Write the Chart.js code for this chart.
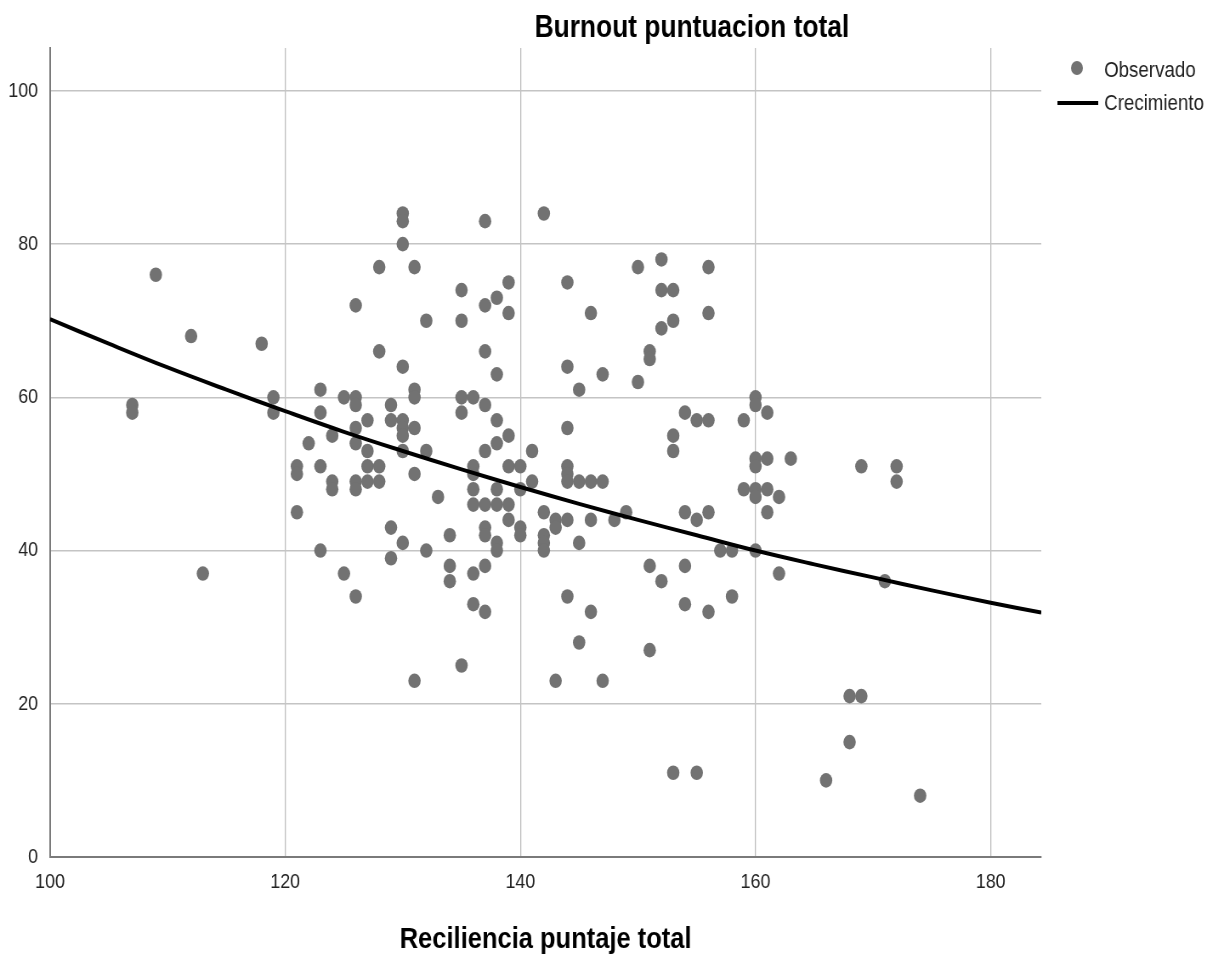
<!DOCTYPE html>
<html>
<head>
<meta charset="utf-8">
<script src="https://cdn.jsdelivr.net/npm/chart.js@4.4.1/dist/chart.umd.min.js"></script>
<style>
  html, body { margin: 0; padding: 0; background: #fff; overflow: hidden; }
  /* the reference looks horizontally compressed, so draw wider and squeeze */
  #wrap { width: 1445px; height: 959px; transform: scaleX(0.85); transform-origin: 0 0; }
</style>
</head>
<body>
<div id="wrap"><canvas id="chart"></canvas></div>
<script>
// Observado: Reciliencia (x) vs Burnout (y)
const resiliencia = [
  107, 107, 109, 112, 113, 118, 119, 119,
  121, 121, 121, 122, 123, 123, 123, 123, 124, 124, 124, 125, 125,
  126, 126, 126, 126, 126, 126, 126, 126, 127, 127, 127, 127,
  128, 128, 128, 128, 129, 129, 129, 129,
  130, 130, 130, 130, 130, 130, 130, 130, 130,
  131, 131, 131, 131, 131, 131, 132, 132, 132, 133, 134, 134, 134,
  135, 135, 135, 135, 135, 136, 136, 136, 136, 136, 136, 136,
  137, 137, 137, 137, 137, 137, 137, 137, 137, 137,
  138, 138, 138, 138, 138, 138, 138, 138, 139, 139, 139, 139, 139, 139,
  140, 140, 140, 140, 141, 141, 142, 142, 142, 142, 142, 143, 143, 143,
  144, 144, 144, 144, 144, 144, 144, 144, 145, 145, 145, 145,
  146, 146, 146, 146, 147, 147, 147, 148, 149, 150, 150,
  151, 151, 151, 151, 152, 152, 152, 152, 153, 153, 153, 153, 153,
  154, 154, 154, 154, 155, 155, 155, 156, 156, 156, 156, 156,
  157, 158, 158, 159, 159, 160, 160, 160, 160, 160, 160, 160,
  161, 161, 161, 161, 162, 162, 163, 166, 168, 168, 169, 169, 171, 172, 172, 174
];
const burnout = [
  59, 58, 76, 68, 37, 67, 60, 58,
  51, 50, 45, 54, 61, 58, 51, 40, 55, 49, 48, 60, 37,
  72, 60, 59, 56, 54, 49, 48, 34, 57, 53, 51, 49,
  77, 66, 51, 49, 59, 57, 43, 39,
  84, 83, 80, 64, 57, 56, 55, 53, 41,
  77, 61, 60, 56, 50, 23, 70, 53, 40, 47, 42, 38, 36,
  74, 70, 60, 58, 25, 60, 51, 50, 48, 46, 37, 33,
  83, 72, 66, 59, 53, 46, 43, 42, 38, 32,
  73, 63, 57, 54, 48, 46, 41, 40, 75, 71, 55, 51, 46, 44,
  51, 48, 43, 42, 53, 49, 84, 45, 42, 41, 40, 44, 43, 23,
  75, 64, 56, 51, 50, 49, 44, 34, 61, 49, 41, 28,
  71, 49, 44, 32, 63, 49, 23, 44, 45, 77, 62,
  66, 65, 38, 27, 78, 74, 69, 36, 74, 70, 55, 53, 11,
  58, 45, 38, 33, 57, 44, 11, 77, 71, 57, 45, 32,
  40, 40, 34, 57, 48, 60, 59, 52, 51, 48, 47, 40,
  58, 52, 48, 45, 47, 37, 52, 10, 21, 15, 51, 21, 36, 51, 49, 8
];

// Crecimiento: fitted curve
const curveX = [100, 105, 110, 115, 120, 125, 130, 135, 140, 145, 150, 155, 160, 165, 170, 175, 180, 184.3];
const curveY = [70.2, 67.0, 63.9, 61.0, 58.2, 55.5, 53.0, 50.6, 48.3, 46.1, 44.0, 42.0, 40.0, 38.2, 36.5, 34.8, 33.2, 31.9];

const xMin = 100, xMax = 184.3, xStep = 20;
const yMin = 0, yMax = 105.6, yStep = 20;

const titleText = 'Burnout puntuacion total';
const xTitle = 'Reciliencia puntaje total';
const legendLabels = ['Observado', 'Crecimiento'];

const dotColor = '#727272';
const FONT = 'Arial, "Liberation Sans", Helvetica, sans-serif';

const observado = resiliencia.map((x, i) => ({ x: x, y: burnout[i] }));
const crecimiento = curveX.map((x, i) => ({ x: x, y: curveY[i] }));

// title + legend drawn by hand, like the SPSS output
const decor = {
  id: 'decor',
  afterDraw(chart) {
    const ctx = chart.ctx;
    ctx.save();
    ctx.fillStyle = '#000';
    ctx.font = 'bold 31px ' + FONT;
    ctx.textAlign = 'center';
    ctx.textBaseline = 'middle';
    ctx.fillText(titleText, 814, 28);

    // legend
    ctx.fillStyle = dotColor;
    ctx.beginPath();
    ctx.arc(1267, 68, 7, 0, Math.PI * 2);
    ctx.fill();
    ctx.strokeStyle = '#000';
    ctx.lineWidth = 4;
    ctx.beginPath();
    ctx.moveTo(1244, 103);
    ctx.lineTo(1292, 103);
    ctx.stroke();

    ctx.fillStyle = '#222';
    ctx.font = '22px ' + FONT;
    ctx.textAlign = 'left';
    ctx.fillText(legendLabels[0], 1299, 71);
    ctx.fillText(legendLabels[1], 1299, 104);
    ctx.restore();
  }
};

new Chart(document.getElementById('chart'), {
  type: 'scatter',
  data: {
    datasets: [
      {
        label: legendLabels[1],
        data: crecimiento,
        showLine: true,
        borderColor: '#000',
        borderWidth: 4,
        pointRadius: 0,
        tension: 0.4,
        fill: false,
        order: 0
      },
      {
        label: legendLabels[0],
        data: observado,
        backgroundColor: dotColor,
        borderColor: dotColor,
        borderWidth: 0,
        pointRadius: 7.3,
        pointHoverRadius: 7.3,
        order: 1
      }
    ]
  },
  options: {
    responsive: true,
    maintainAspectRatio: false,
    animation: false,
    layout: { padding: { top: 48, right: 220, left: 0, bottom: 0 } },
    plugins: {
      legend: { display: false },
      tooltip: { enabled: false }
    },
    scales: {
      x: {
        type: 'linear',
        min: xMin,
        max: xMax,
        afterFit: (s) => { s.height = 102; },
        ticks: {
          stepSize: xStep,
          includeBounds: false,
          padding: 13,
          color: '#222',
          font: { family: FONT, size: 21 }
        },
        grid: { color: '#bdbdbd', lineWidth: 1.3, drawTicks: false },
        border: { display: true, color: '#7a7a7a', width: 2 },
        title: {
          display: true,
          text: xTitle,
          color: '#000',
          font: { family: FONT, size: 30, weight: 'bold' },
          padding: { top: 0, bottom: 1 }
        }
      },
      y: {
        type: 'linear',
        min: yMin,
        max: yMax,
        afterFit: (s) => { s.width = 58.8; },
        ticks: {
          stepSize: yStep,
          includeBounds: false,
          padding: 14,
          color: '#222',
          font: { family: FONT, size: 21 }
        },
        grid: { color: '#c4c4c4', lineWidth: 1.6, drawTicks: false },
        border: { display: true, color: '#7a7a7a', width: 2 }
      }
    }
  },
  plugins: [decor]
});
</script>
</body>
</html>
